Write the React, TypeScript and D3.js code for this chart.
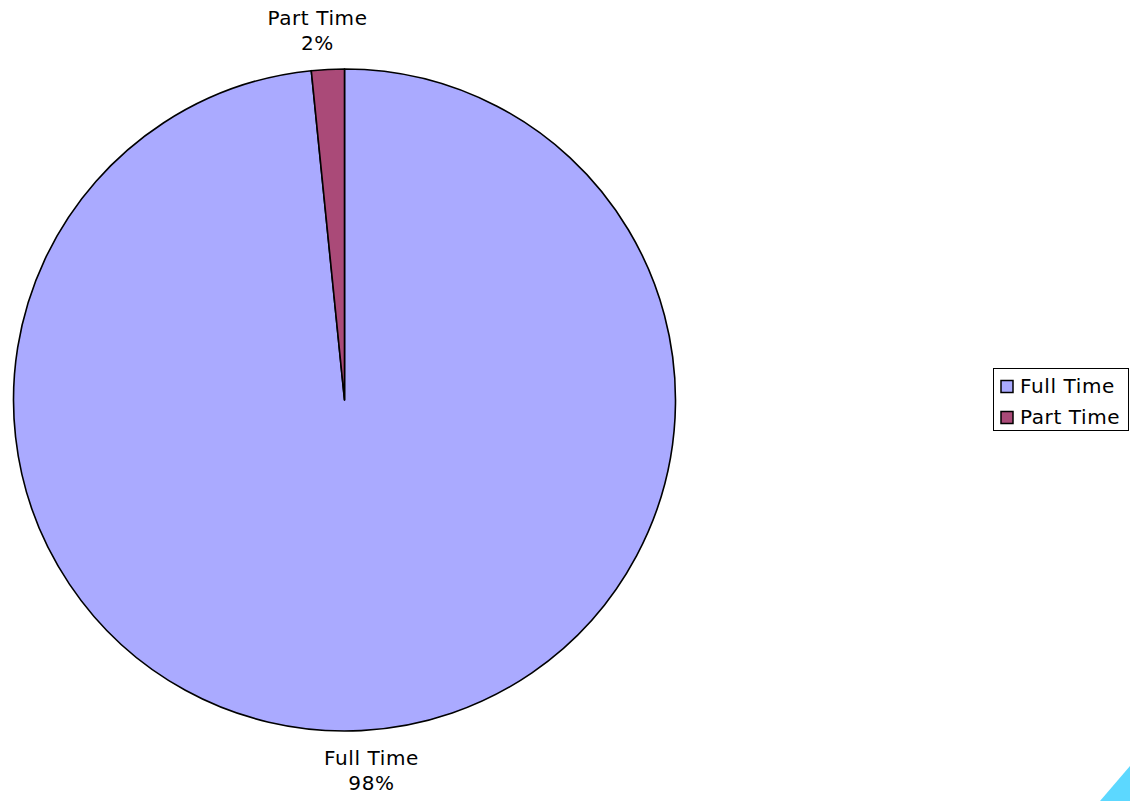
import React from "react";
import * as d3 from "d3";

const categories = ["Full Time", "Part Time"];
const values = [98.4, 1.6];
const colors = ["#AAAAFF", "#AA4A78"];

const W = 1130;
const H = 801;
const cx = 344.5;
const cy = 400;
const R = 331;
const FONT = "'DejaVu Sans', Verdana, sans-serif";

export default function App() {
  const total = d3.sum(values);
  const pie = d3.pie<number>().sort(null).startAngle(0).endAngle(2 * Math.PI);
  const arcs = pie(values);
  const arc = d3.arc<d3.PieArcDatum<number>>().innerRadius(0).outerRadius(R);

  return (
    <svg
      width={W}
      height={H}
      style={{ position: "absolute", left: 0, top: 0, background: "#fff" }}
      fontFamily={FONT}
    >
      <g transform={`translate(${cx},${cy})`}>
        {arcs.map((a, i) => (
          <path
            key={i}
            d={arc(a) || ""}
            fill={colors[i]}
            stroke="#000"
            strokeWidth={1.6}
            strokeLinejoin="round"
          />
        ))}
        {arcs.map((a, i) => {
          const mid = (a.startAngle + a.endAngle) / 2;
          const side = Math.sin(mid) >= 0 ? 1 : -1;
          const x = side * 27;
          const yc = -Math.cos(mid) * 370;
          const pct = Math.round((values[i] / total) * 100);
          return (
            <text key={"l" + i} textAnchor="middle" fontSize={20} letterSpacing={0.6} fill="#000">
              <tspan x={x} y={yc - 5}>{categories[i]}</tspan>
              <tspan x={x} y={yc + 20}>{pct}%</tspan>
            </text>
          );
        })}
      </g>
      <g>
        <rect x={993.5} y={368.5} width={135} height={62} fill="#fff" stroke="#000" strokeWidth={1} />
        {categories.map((c, i) => (
          <g key={"lg" + i} transform={`translate(0,${i * 31})`}>
            <rect x={1001} y={380.5} width={12} height={12} fill={colors[i]} stroke="#000" strokeWidth={1.5} />
            <text x={1020} y={393} fontSize={20} letterSpacing={0.6} fill="#000">{c}</text>
          </g>
        ))}
      </g>
      <polygon points={`1100,801 1130,766 1130,801`} fill="#5CD8FF" />
    </svg>
  );
}
